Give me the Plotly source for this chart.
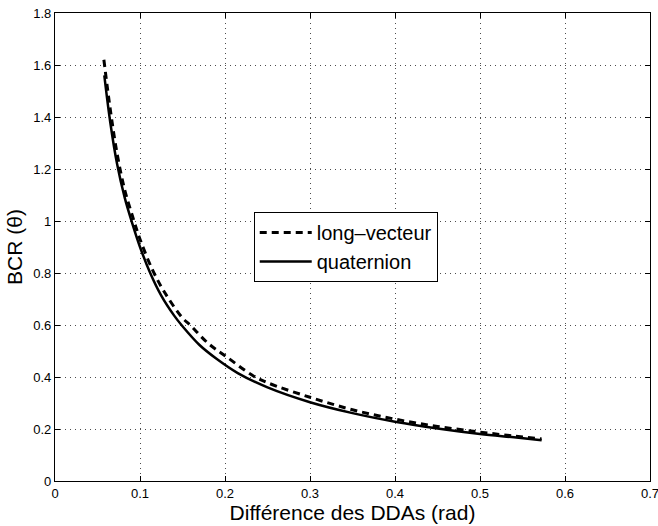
import plotly.graph_objects as go

# Data
x_quat = [0.058, 0.065, 0.073, 0.082, 0.091, 0.100, 0.112, 0.125, 0.140, 0.150,
          0.170, 0.190, 0.215, 0.250, 0.300, 0.350, 0.400, 0.450, 0.500, 0.540, 0.5725]
y_quat = [1.56, 1.38, 1.22, 1.09, 0.99, 0.90, 0.80, 0.713, 0.637, 0.595,
          0.523, 0.470, 0.415, 0.360, 0.303, 0.261, 0.228, 0.202, 0.181, 0.168, 0.157]

x_long = [0.0575, 0.065, 0.073, 0.082, 0.092, 0.100, 0.115, 0.130, 0.150, 0.159,
          0.180, 0.200, 0.233, 0.250, 0.300, 0.350, 0.400, 0.450, 0.500, 0.540, 0.5725]
y_long = [1.62, 1.43, 1.26, 1.12, 1.01, 0.93, 0.81, 0.72, 0.627, 0.60,
          0.530, 0.482, 0.405, 0.378, 0.322, 0.274, 0.238, 0.210, 0.188, 0.173, 0.162]

x_ticks = [0, 0.1, 0.2, 0.3, 0.4, 0.5, 0.6, 0.7]
x_tick_labels = ["0", "0.1", "0.2", "0.3", "0.4", "0.5", "0.6", "0.7"]
y_ticks = [0, 0.2, 0.4, 0.6, 0.8, 1.0, 1.2, 1.4, 1.6, 1.8]
y_tick_labels = ["0", "0.2", "0.4", "0.6", "0.8", "1", "1.2", "1.4", "1.6", "1.8"]

FONT = "Liberation Sans, Arial, Helvetica, sans-serif"

fig = go.Figure()
fig.add_trace(go.Scatter(x=x_long, y=y_long, mode="lines", name="long–vecteur",
                         line=dict(color="black", width=3, dash="7px,5px", shape="spline")))
fig.add_trace(go.Scatter(x=x_quat, y=y_quat, mode="lines", name="quaternion",
                         line=dict(color="black", width=2.5, shape="spline")))

axis_common = dict(
    showline=True, linecolor="black", linewidth=1.3, mirror="ticks",
    ticks="inside", ticklen=5, tickcolor="black", tickwidth=1,
    showgrid=True, gridcolor="rgba(0,0,0,0.7)", gridwidth=1, griddash="1px,4px",
    zeroline=False, automargin=False, ticklabeloverflow="allow",
    tickfont=dict(family=FONT, size=13, color="black"),
)

fig.update_layout(
    width=658, height=526,
    margin=dict(l=55, r=8, t=13, b=45),
    paper_bgcolor="white", plot_bgcolor="white",
    font=dict(family=FONT, color="black"),
    xaxis=dict(range=[0, 0.7], tickvals=x_ticks, ticktext=x_tick_labels,
               title=dict(text="Différence des DDAs (rad)", font=dict(size=21), standoff=0),
               **axis_common),
    yaxis=dict(range=[0, 1.8], tickvals=y_ticks, ticktext=y_tick_labels,
               title=dict(text="BCR (θ)", font=dict(size=21), standoff=4),
               **axis_common),
    legend=dict(x=0.334, y=0.575, xanchor="left", yanchor="top",
                bgcolor="white", bordercolor="black", borderwidth=1,
                font=dict(family=FONT, size=20, color="black"),
                tracegroupgap=0, itemwidth=52),
    showlegend=True,
)

fig.write_html("out.html",
               config={"displayModeBar": False},
               post_script="document.body.style.margin='0px';document.body.style.overflow='hidden';")
